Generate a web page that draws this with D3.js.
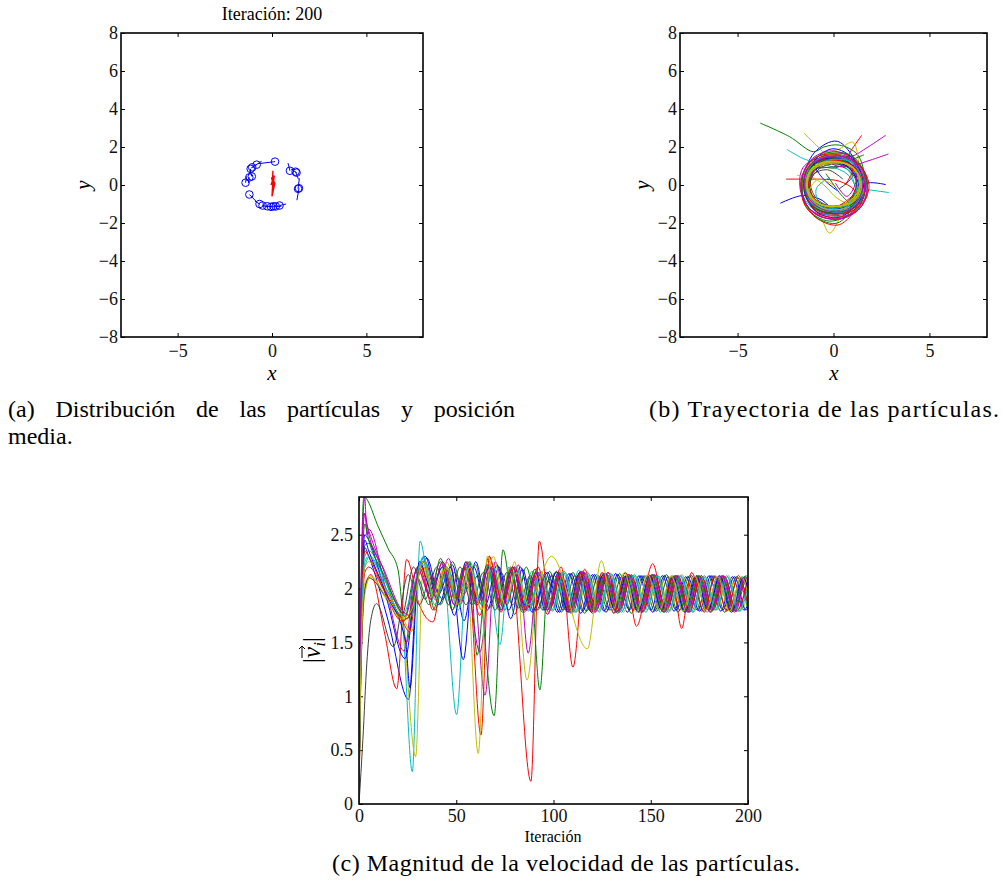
<!DOCTYPE html>
<html>
<head>
<meta charset="utf-8">
<script src="https://cdn.jsdelivr.net/npm/d3@7"></script>
<style>
body { margin: 0; background: #fff; }
svg  { display: block; font-family: "Liberation Serif", "Times New Roman", serif; }
</style>
</head>
<body>
<script>
/* global d3 */

// ---- data ----
var posTicksX = [-5, 0, 5];
var posTicksY = [-8, -6, -4, -2, 0, 2, 4, 6, 8];
var iterTicks = [0, 50, 100, 150, 200];
var speedTicks = [0, 0.5, 1, 1.5, 2, 2.5];

// MATLAB line colour order b g r c m y k
var lineColors = ["#0000ff", "#008000", "#ff0000", "#00bfbf", "#bf00bf", "#bfbf00", "#404040"];

// (a) particle positions at iteration 200 and the end of their short tails
var particlePos = [
    [0.16, 1.23], [-0.81, 1.07], [-1.05, 0.93], [-1.13, 0.85], [-1.07, 0.45],
    [-1.4, 0.12], [-1.2, -0.5], [-0.66, -1.0], [-0.5, -1.08], [-0.25, -1.12],
    [-0.05, -1.15], [0.07, -1.12], [0.4, -1.08], [0.95, 0.75], [1.3, 0.65],
    [1.43, -0.17], [1.38, -0.2], [-1.2, 0.4], [0.2, -1.13], [1.25, 0.7]
];
var particleTail = [
    [-0.75, 1.12], [-1.1, 0.9], [-0.55, 1.25], [-1.2, 0.55], [-1.15, 0.75],
    [-1.35, 0.45], [-0.85, -0.85], [-0.9, -0.85], [-0.2, -1.15], [0.1, -1.15],
    [-0.4, -1.1], [0.35, -1.1], [0.75, -1.0], [0.85, 1.15], [1.0, 0.85],
    [1.32, -0.8], [1.45, 0.35], [-1.25, 0.1], [0.5, -1.12], [1.4, 0.3]
];
// (a) mean position of the swarm
var meanPath = [
    [0.05, 0.75], [0.02, 0.2], [0.1, -0.1], [-0.03, 0.4], [0.15, 0.1], [0.0, -0.6],
    [0.05, 0.3], [-0.05, 0.0], [0.12, 0.5], [0.02, -0.35], [0.08, 0.2], [0.04, 0.6]
];

// (b) trajectories, one per particle
var trajectories = [
    [[-2.77,-0.96],[-1.6,-0.55],[-0.7,-0.75],[0.4,-1.5],[1.45,-0.7],[1.4,0.7],[0.2,2.3],[-1.0,1.7],[-1.5,0.3],[-0.9,-1.0],[0.5,-1.3],[1.35,-0.1],[0.8,1.05],[-0.5,1.15],[-1.3,0.2],[-0.8,-0.95],[0.45,-1.1],[1.3,0.0],[0.8,1.0],[0.16,1.23]],
    [[-3.82,3.26],[-2.3,2.55],[-1.05,1.75],[-0.5,2.0],[0.3,2.1],[1.25,1.6],[1.6,0.3],[1.1,-1.3],[-0.2,-1.9],[-1.4,-1.2],[-1.6,0.3],[-0.9,1.3],[0.4,1.3],[1.4,0.3],[1.0,-0.9],[-0.3,-1.2],[-1.3,-0.5],[-1.2,0.7],[-0.1,1.2],[1.1,0.8],[1.3,-0.4],[0.4,-1.1],[-0.5,-1.08]],
    [[1.47,2.62],[0.9,1.8],[0.5,1.2],[-0.4,1.5],[-1.3,0.9],[-1.6,-0.6],[-0.8,-1.6],[0.6,-1.7],[1.6,-0.8],[1.7,0.5],[0.9,1.4],[-0.4,1.3],[-1.4,0.3],[-1.1,-0.9],[0.2,-1.25],[1.3,-0.6],[1.3,0.6],[0.4,1.15],[-0.7,1.0],[-1.4,0.12]],
    [[-2.42,1.87],[-1.6,1.4],[-1.0,1.2],[-0.2,1.0],[0.8,0.5],[1.2,-0.5],[0.6,-1.4],[-0.7,-1.5],[-1.6,-0.5],[-1.4,0.9],[-0.3,1.5],[0.9,1.3],[1.5,0.2],[1.0,-1.0],[-0.2,-1.3],[-1.2,-0.7],[-1.3,0.5],[-0.5,1.1],[0.7,1.0],[1.3,0.65]],
    [[2.72,2.62],[1.8,2.0],[0.9,1.5],[-0.1,1.6],[-1.2,1.1],[-1.5,-0.2],[-1.0,-1.3],[0.3,-1.6],[1.4,-1.0],[1.6,0.4],[0.8,1.4],[-0.5,1.4],[-1.4,0.5],[-1.3,-0.8],[-0.2,-1.4],[1.1,-1.0],[1.45,0.2],[0.9,1.05],[-0.3,1.2],[-1.05,0.93]],
    [[-1.55,2.74],[-0.9,2.1],[-0.45,1.7],[0.3,1.9],[1.0,2.25],[1.3,1.2],[1.1,-0.3],[0.4,-1.6],[-0.2,-2.53],[-0.7,-1.6],[-1.4,-0.6],[-1.3,0.8],[-0.3,1.3],[0.9,1.1],[1.4,0.0],[0.8,-1.0],[-0.5,-1.15],[-1.35,-0.3],[-1.1,0.8],[0.0,1.25],[1.0,1.0],[1.4,-0.2],[0.95,-0.9],[0.07,-1.12]],
    [[0.3,-0.2],[1.0,0.5],[0.5,1.3],[-0.7,1.2],[-1.3,0.0],[-0.7,-1.1],[0.6,-1.0],[1.2,0.1],[0.6,0.9],[-0.6,0.9],[-1.13,0.85]],
    [[2.72,0.02],[1.66,0.06],[1.3,-0.9],[0.3,-1.7],[-0.9,-1.4],[-1.5,-0.2],[-1.1,1.1],[0.1,1.5],[1.2,1.0],[1.5,-0.3],[0.7,-1.3],[-0.6,-1.3],[-1.4,-0.3],[-1.0,0.9],[0.2,1.2],[1.25,0.6],[1.3,-0.6],[0.4,-1.15],[-0.66,-1.0]],
    [[1.59,1.59],[0.9,1.3],[0.1,0.9],[-0.8,0.9],[-1.3,0.0],[-0.9,-1.2],[0.4,-1.5],[1.5,-0.8],[1.6,0.6],[0.7,1.5],[-0.6,1.5],[-1.5,0.6],[-1.4,-0.7],[-0.4,-1.4],[0.9,-1.2],[1.45,0.0],[0.9,1.1],[-0.2,1.25],[-1.2,0.6],[-1.2,-0.5]],
    [[-2.48,0.31],[-1.38,0.31],[-0.6,0.3],[0.3,0.2],[1.1,-0.3],[1.2,-1.1],[0.3,-2.09],[-0.8,-1.8],[-1.6,-0.8],[-1.5,0.6],[-0.6,1.5],[0.7,1.6],[1.6,0.7],[1.7,-0.6],[0.9,-1.4],[-0.4,-1.4],[-1.3,-0.6],[-1.3,0.6],[-0.4,1.2],[0.8,1.15],[1.4,0.3],[1.2,-0.7],[0.4,-1.08]],
    [[2.9,-0.4],[1.8,-0.25],[1.22,-0.2],[0.9,0.6],[0.1,1.3],[-0.9,1.3],[-1.5,0.4],[-1.3,-0.9],[-0.2,-1.6],[1.0,-1.5],[1.7,-0.5],[1.5,0.8],[0.4,1.4],[-0.8,1.3],[-1.4,0.2],[-1.0,-1.0],[0.2,-1.3],[1.2,-0.8],[1.4,0.4],[0.95,0.75]],
    [[2.86,1.63],[1.9,1.3],[1.03,1.04],[0.2,1.0],[-0.7,1.4],[-1.6,0.9],[-1.7,-0.4],[-1.0,-1.5],[0.3,-1.8],[1.4,-1.2],[1.75,0.1],[1.1,1.2],[-0.2,1.4],[-1.3,0.8],[-1.4,-0.5],[-0.6,-1.3],[0.7,-1.3],[1.4,-0.4],[1.2,0.7],[0.3,1.2],[-0.81,1.07]],
    [[-1.9,0.5],[-1.2,0.45],[-0.5,0.0],[0.2,-0.7],[1.0,-1.0],[1.6,-0.2],[1.3,1.0],[0.2,1.6],[-1.0,1.4],[-1.6,0.3],[-1.2,-1.0],[0.0,-1.4],[1.1,-1.0],[1.4,0.2],[0.8,1.1],[-0.4,1.2],[-1.3,0.5],[-1.2,-0.6],[-0.3,-1.15],[0.7,-1.0],[1.35,-0.1],[1.0,0.9],[-0.1,1.25],[-1.2,0.75],[-1.42,-0.2],[-0.8,-1.0],[0.4,-1.12],[1.3,-0.5],[1.3,0.55],[0.3,1.2],[-0.8,1.05],[-1.07,0.45]],
    [[0.5,0.3],[-0.3,0.8],[-1.1,0.5],[-1.1,-0.6],[-0.2,-1.1],[0.9,-0.8],[1.2,0.3],[0.6,1.0],[-0.5,1.0],[-1.2,0.2],[-0.9,-0.7],[-0.25,-1.12]],
    [[0.2,-0.3],[-0.6,0.4],[-1.0,1.2],[-0.1,1.9],[0.9,1.5],[1.5,0.3],[1.1,-1.0],[-0.1,-1.5],[-1.3,-0.9],[-1.5,0.4],[-0.7,1.3],[0.6,1.3],[1.4,0.5],[1.2,-0.8],[0.1,-1.25],[-1.1,-0.8],[-1.3,0.4],[-0.5,1.1],[0.7,1.0],[1.43,-0.17]],
    [[-0.4,0.6],[0.3,-0.4],[0.9,-1.2],[0.2,-2.0],[-0.9,-1.7],[-1.6,-0.5],[-1.4,1.0],[-0.3,1.7],[1.0,1.5],[1.7,0.3],[1.3,-1.0],[0.1,-1.5],[-1.2,-1.0],[-1.5,0.3],[-0.8,1.2],[0.5,1.3],[1.4,0.4],[1.2,-0.8],[0.2,-1.2],[-0.05,-1.15]],
    [[0.6,0.0],[1.0,0.9],[0.2,1.6],[-1.0,1.4],[-1.7,0.2],[-1.3,-1.2],[0.0,-1.7],[1.3,-1.3],[1.85,0.0],[1.2,1.2],[0.0,1.5],[-1.2,1.0],[-1.5,-0.2],[-0.9,-1.3],[0.4,-1.5],[1.5,-0.8],[1.5,0.5],[0.6,1.2],[-0.5,1.25],[-1.3,0.5],[-1.0,-0.7],[0.0,-1.2],[1.38,-0.2]],
    [[-0.2,0.4],[-0.9,-0.2],[-0.6,-1.2],[0.6,-1.4],[1.4,-0.5],[1.3,0.8],[0.3,1.5],[-0.9,1.3],[-1.5,0.2],[-1.1,-1.0],[0.1,-1.4],[1.2,-1.0],[1.5,0.2],[0.9,1.2],[-0.3,1.3],[-1.3,0.6],[-1.3,-0.6],[-0.4,-1.2],[0.8,-1.0],[1.3,0.2],[1.25,0.7]],
    [[0.1,0.1],[0.7,-0.6],[1.2,0.3],[1.0,1.3],[-0.1,1.8],[-1.2,1.3],[-1.7,0.0],[-1.2,-1.3],[0.1,-1.8],[1.3,-1.2],[1.6,0.2],[1.0,1.3],[-0.3,1.5],[-1.4,0.8],[-1.4,-0.5],[-0.5,-1.3],[0.8,-1.3],[1.5,-0.3],[1.2,0.8],[0.2,1.2],[-0.8,1.0],[-1.2,0.4]],
    [[0.0,0.0],[-0.8,0.3],[-1.3,-0.5],[-0.6,-1.2],[0.6,-1.2],[1.35,-0.3],[1.2,0.7],[0.3,1.2],[-0.8,1.1],[-1.38,0.2],[-1.0,-0.85],[0.0,-1.1],[1.0,-0.9],[1.4,0.1],[0.9,1.0],[-0.2,1.2],[-1.2,0.8],[-1.35,-0.3],[-0.6,-1.05],[0.5,-1.05],[1.35,-0.2],[1.1,0.85],[0.0,1.22],[-1.1,0.9],[-1.4,0.0],[-0.9,-0.9],[0.2,-1.13],[1.2,-0.75],[1.45,0.2],[0.85,1.05],[-0.3,1.18],[-1.25,0.6],[-1.3,-0.5],[-0.5,-1.1],[0.6,-1.0],[1.38,-0.1],[1.0,0.95],[0.1,1.15],[-1.0,0.85],[-1.35,-0.1],[-0.7,-1.0],[0.2,-1.13]]
];

// (c) speed |v_i| per particle: [iteration, value] at start, peaks and troughs
var speedCurves = [
    [[0,0],[1,1.5],[3,2.38],[5,2.3],[15,1.7],[25.5,0.97],[30,2.1],[34,2.3],[41,1.85],[48,2.22],[54,1.7],[60,2.25],[66,1.8],[72,2.2],[78,1.72],[84,2.18],[90,1.78],[96,2.15],[102,1.78],[108,2.14],[114,1.77],[120,2.13],[126,1.79],[132,2.14],[138,1.78],[144,2.12],[150,1.8],[156,2.12],[162,1.79],[168,2.11],[174,1.8],[180,2.12],[186,1.79],[192,2.11],[198,1.8],[200,1.85]],
    [[0,0],[1,1.9],[2.5,2.85],[10,2.57],[15,2.37],[20,2.18],[24.5,1.5],[29,2.05],[35,2.2],[42,1.85],[48,2.25],[54,1.95],[60,2.22],[69.5,0.82],[74,2.36],[80,1.76],[86,2.2],[92,1.8],[98,2.16],[104,1.78],[110,2.15],[116,1.77],[122,2.13],[128,1.8],[134,2.14],[140,1.77],[146,2.12],[152,1.79],[158,2.13],[164,1.78],[170,2.12],[176,1.79],[182,2.12],[188,1.78],[194,2.11],[200,1.8]],
    [[0,0],[1,1.3],[3,2.0],[6,2.13],[13,1.6],[19.4,1.07],[24.5,2.27],[31,1.85],[38,1.69],[44,2.2],[50,1.9],[56,2.15],[62.7,0.64],[67,2.3],[73,1.78],[79,2.2],[85,1.8],[91,2.12],[97,1.76],[103,2.15],[109,1.79],[115,2.16],[121,1.78],[127,2.13],[133,1.79],[139,2.13],[145,1.78],[151,2.12],[157,1.8],[163,2.12],[169,1.78],[175,2.11],[181,1.8],[187,2.12],[193,1.78],[199,2.1],[200,2.08]],
    [[0,0],[1,1.4],[3,2.2],[5.7,2.3],[14,2.0],[22,1.72],[27.4,0.3],[31.4,2.44],[37,1.95],[43,2.2],[50.2,0.83],[55,2.05],[61,1.85],[66,2.22],[72.5,1.48],[77,2.2],[83,1.82],[89,2.16],[95,1.8],[101,2.14],[107,1.78],[113,2.17],[119,1.8],[125,2.14],[131,1.77],[137,2.12],[143,1.8],[149,2.13],[155,1.78],[161,2.12],[167,1.8],[173,2.11],[179,1.78],[185,2.12],[191,1.8],[197,2.11],[200,2.0]],
    [[0,0],[1,2.0],[3,2.84],[4,2.5],[5,2.55],[14,1.98],[23.2,1.42],[29,2.15],[34,2.25],[40,1.9],[46,2.28],[52,1.85],[58,2.2],[64.8,1.01],[70,2.25],[76,1.85],[82,2.22],[87,1.4],[92,2.15],[98,1.82],[104,2.13],[110,1.78],[116,2.15],[122,1.8],[128,2.15],[134,1.78],[140,2.12],[146,1.79],[152,2.13],[158,1.78],[164,2.12],[170,1.79],[176,2.12],[182,1.8],[188,2.11],[194,1.79],[200,2.1]],
    [[0,0],[1,1.2],[3,1.95],[6,2.11],[14,1.9],[22,1.7],[29.1,0.44],[33,2.2],[39,1.95],[45,2.25],[51,1.9],[57,2.15],[63,1.8],[69,2.2],[75,1.8],[80,2.25],[86.4,1.15],[93,2.15],[100,1.8],[106,2.15],[112,1.78],[118,2.14],[124,1.8],[130,2.13],[136,1.78],[142,2.12],[148,1.8],[154,2.12],[160,1.79],[166,2.13],[172,1.78],[178,2.11],[184,1.8],[190,2.12],[196,1.79],[200,1.95]],
    [[0,0],[2,0.6],[4,1.3],[6,1.7],[9,1.86],[17.6,1.46],[25.3,2.13],[31,1.85],[37,2.1],[43,1.9],[49,2.15],[55,1.85],[61,2.12],[67,1.82],[73,2.15],[79,1.85],[85,2.1],[91,1.8],[99,2.12],[105,1.8],[111,2.12],[117,1.79],[123,2.12],[129,1.8],[135,2.11],[141,1.8],[147,2.12],[153,1.79],[159,2.11],[165,1.8],[171,2.12],[177,1.79],[183,2.11],[189,1.8],[195,2.1],[200,1.85]],
    [[0,0],[1,1.7],[3,2.5],[5,2.45],[14,1.92],[23.7,1.35],[29,2.0],[35,2.28],[41,1.95],[47,2.2],[53.6,1.34],[59,2.2],[65,1.85],[71,2.22],[77,1.8],[83,2.2],[89,1.78],[97,2.15],[103,1.78],[109,2.14],[115,1.79],[121,2.13],[127,1.78],[133,2.13],[139,1.8],[145,2.12],[151,1.78],[157,2.12],[163,1.8],[169,2.11],[175,1.79],[181,2.12],[187,1.8],[193,2.11],[199,1.8],[200,1.82]],
    [[0,0],[1,1.6],[3,2.4],[5,2.42],[14,2.05],[23,1.7],[28,2.1],[33,2.25],[39,1.8],[45,2.2],[51,1.85],[57,2.25],[60.7,1.38],[66,2.2],[72,1.85],[78,2.15],[84,1.8],[88,2.1],[93,1.06],[97,2.05],[102,2.15],[108,1.78],[114,2.16],[120,1.77],[126,2.14],[132,1.78],[138,2.13],[144,1.78],[150,2.12],[156,1.79],[162,2.12],[168,1.78],[174,2.12],[180,1.8],[186,2.11],[192,1.79],[198,2.11],[200,2.05]],
    [[0,0],[1,1.3],[3,2.15],[5,2.2],[13,1.98],[21,1.75],[26,1.6],[31,2.2],[37,1.9],[43,2.25],[49,1.85],[55,2.2],[61,1.85],[67,2.3],[73,1.85],[78,2.2],[88.4,0.21],[92.7,2.44],[98,1.9],[104,2.2],[110,1.27],[116,2.18],[122,1.8],[128,2.15],[134,1.8],[140,2.13],[146,1.78],[152,2.12],[158,1.8],[164,2.12],[170,1.78],[176,2.12],[182,1.8],[188,2.11],[194,1.79],[200,2.08]],
    [[0,0],[1,1.5],[3,2.3],[5,2.35],[14,2.05],[22,1.8],[27,1.75],[33,2.3],[39,1.9],[45,2.2],[51,1.95],[57,2.2],[63,1.85],[69,2.15],[75,1.8],[81,2.18],[87,1.79],[93,2.13],[99,1.8],[105,2.15],[111,1.78],[117,2.14],[123,1.79],[129,2.13],[135,1.78],[141,2.12],[147,1.8],[153,2.12],[159,1.78],[165,2.12],[171,1.79],[177,2.11],[183,1.8],[189,2.12],[195,1.79],[200,2.05]],
    [[0,0],[1,1.8],[2.5,2.7],[4,2.6],[12,2.2],[21,1.8],[24,1.75],[30,2.2],[36,1.95],[42,2.25],[48,1.8],[54,2.2],[62.2,1.41],[68,2.2],[74,1.85],[80,2.2],[86,1.8],[92,2.15],[97.5,1.78],[103.5,2.14],[109.5,1.8],[115.5,2.15],[121.5,1.78],[127.5,2.13],[133.5,1.8],[139.5,2.12],[145.5,1.78],[151.5,2.13],[157.5,1.8],[163.5,2.12],[169.5,1.78],[175.5,2.11],[181.5,1.8],[187.5,2.12],[193.5,1.79],[199.5,2.1],[200,2.08]],
    [[0,0],[1,1.4],[3,2.2],[5,2.25],[14,1.98],[22,1.75],[27,1.6],[32,2.25],[38,1.95],[44,2.2],[50,1.85],[55,2.25],[61.3,0.47],[66,2.3],[72,1.85],[78,2.2],[84,1.8],[90,2.15],[96.5,1.8],[102.5,2.13],[108.5,1.79],[114.5,2.14],[120.5,1.78],[126.5,2.12],[132.5,1.8],[138.5,2.12],[144.5,1.78],[150.5,2.12],[156.5,1.79],[162.5,2.12],[168.5,1.8],[174.5,2.11],[180.5,1.79],[186.5,2.11],[192.5,1.8],[198.5,2.1],[200,2.05]],
    [[0,0],[1,1.2],[3,2.0],[5,2.1],[14,1.92],[22,1.75],[28,2.2],[34,1.9],[40,2.2],[46,1.85],[52,2.2],[58,1.85],[64,2.15],[70,1.8],[76,2.15],[82,1.82],[88,2.12],[94.5,1.8],[100.5,2.12],[106.5,1.8],[112.5,2.12],[118.5,1.8],[124.5,2.11],[130.5,1.8],[136.5,2.11],[142.5,1.8],[148.5,2.11],[154.5,1.8],[160.5,2.1],[166.5,1.8],[172.5,2.1],[178.5,1.81],[184.5,2.1],[190.5,1.8],[196.5,2.1],[200,1.95]],
    [[0,0],[1,1.6],[3,2.45],[5,2.35],[14,1.95],[24,1.5],[26.2,1.08],[31,2.25],[37,2.0],[43,2.2],[49,1.75],[55,2.25],[61,1.9],[67,2.2],[73,1.8],[79,2.2],[85,1.85],[91,2.15],[95.5,1.8],[101.5,2.16],[107.5,1.78],[113.5,2.15],[119.5,1.78],[125.5,2.13],[131.5,1.8],[137.5,2.12],[143.5,1.78],[149.5,2.12],[155.5,1.8],[161.5,2.11],[167.5,1.78],[173.5,2.12],[179.5,1.8],[185.5,2.12],[191.5,1.78],[197.5,2.1],[200,2.0]],
    [[0,0],[1,1.8],[3,2.6],[5,2.45],[13,2.12],[21,1.8],[25,1.72],[30,2.1],[36,1.85],[42,2.28],[48,1.8],[54,2.2],[60,1.85],[66,2.22],[72,1.8],[78,2.18],[84,1.78],[90.5,2.18],[97,1.8],[103,2.14],[109,1.77],[115,2.13],[121,1.8],[127,2.14],[133,1.77],[139,2.12],[145,1.8],[151,2.13],[157,1.78],[163,2.12],[169,1.8],[175,2.12],[181,1.78],[187,2.11],[193,1.8],[199,2.12],[200,2.1]],
    [[0,0],[1,1.6],[3,2.35],[5,2.3],[13,1.98],[22,1.7],[26,1.75],[32,2.2],[38,1.8],[44,2.15],[50,1.9],[56,2.25],[62,1.75],[68,2.2],[74,1.85],[80,2.2],[86,1.8],[92,2.2],[98,1.8],[104,2.15],[108,1.8],[114,2.15],[119.6,1.78],[125,2.15],[131.1,1.77],[137,2.15],[142.7,1.65],[151,2.23],[157,1.85],[161,2.1],[165.9,1.63],[171,2.15],[177.5,1.78],[183,2.12],[189.1,1.79],[195,2.12],[200,1.85]],
    [[0,0],[1,1.5],[3,2.25],[5,2.3],[14,2.0],[22,1.75],[27,1.95],[33,2.28],[39,1.85],[45,2.15],[51,1.8],[57,2.25],[63,1.85],[69,2.2],[75,1.8],[81,2.2],[87.5,1.8],[93.5,2.16],[99.5,1.79],[105.5,2.16],[111.5,1.78],[117.5,2.15],[123.5,1.78],[129.5,2.14],[135.5,1.8],[141.5,2.13],[147.5,1.78],[153.5,2.12],[159.5,1.8],[165.5,2.12],[171.5,1.78],[177.5,2.12],[183.5,1.8],[189.5,2.11],[195.5,1.79],[200,2.02]],
    [[0,0],[1,1.9],[3,2.7],[4.5,2.55],[13,2.17],[22,1.8],[26,1.75],[31,2.15],[37,1.9],[43,2.25],[49,1.85],[55,2.22],[61,1.85],[67,2.22],[73,1.8],[79,2.2],[85,1.78],[91,2.15],[97,1.8],[102.5,2.15],[108.5,1.78],[114.5,2.16],[120.5,1.78],[126.5,2.14],[132.5,1.78],[138.5,2.13],[144.5,1.8],[150.5,2.13],[156.5,1.78],[162.5,2.12],[168.5,1.8],[174.5,2.12],[180.5,1.78],[186.5,2.12],[192.5,1.8],[198.5,2.11],[200,2.08]],
    [[0,0],[1,1.3],[3,2.05],[6,2.12],[14,1.92],[22,1.72],[27,1.8],[33,2.25],[39,1.9],[45,2.2],[51,1.85],[57,2.2],[63,1.8],[69,2.3],[75,1.85],[81,2.15],[87,1.85],[99,2.3],[117.4,1.44],[124.6,2.26],[130.5,1.8],[136.5,2.15],[142.5,1.78],[148.5,2.13],[154.5,1.8],[160.5,2.12],[166.5,1.79],[172.5,2.12],[178.5,1.8],[184.5,2.11],[190.5,1.79],[196.5,2.11],[200,1.95]]
];

var captionA1 = "(a) Distribución de las partículas y posición";
var captionA2 = "media.";
var captionB  = "(b) Trayectoria de las partículas.";
var captionC  = "(c) Magnitud de la velocidad de las partículas.";

// ---- drawing ----
var serif = "'Liberation Serif', 'Times New Roman', Times, serif";

var svg = d3.select("body").append("svg")
            .attr("width", 1002)
            .attr("height", 896)
            .attr("font-family", serif);

var colorOf = (i) => lineColors[i % lineColors.length];
var numFmt  = d3.format("~g");

var makeAxes = (box, xDom, yDom, xTicks, yTicks, id) => {
    var x = d3.scaleLinear().domain(xDom).range([box.left, box.right]);
    var y = d3.scaleLinear().domain(yDom).range([box.bottom, box.top]);
    var g = svg.append("g");

    var styleAxis = (sel) => {
        sel.select(".domain").remove();
        sel.attr("font-family", serif).attr("font-size", null);
        sel.selectAll("line").attr("stroke", "#000");
        sel.selectAll("text").style("font-size", "18px").attr("fill", "#111");
    };

    g.append("g").attr("transform", `translate(0,${box.bottom})`)
     .call(d3.axisBottom(x).tickValues(xTicks).tickSize(-4).tickPadding(box.xpad).tickFormat(numFmt))
     .call(styleAxis);
    g.append("g").attr("transform", `translate(0,${box.top})`)
     .call(d3.axisTop(x).tickValues(xTicks).tickSize(-4).tickFormat(() => ""))
     .call(styleAxis);
    g.append("g").attr("transform", `translate(${box.left},0)`)
     .call(d3.axisLeft(y).tickValues(yTicks).tickSize(-4).tickPadding(box.ypad).tickFormat(numFmt))
     .call(styleAxis);
    g.append("g").attr("transform", `translate(${box.right},0)`)
     .call(d3.axisRight(y).tickValues(yTicks).tickSize(-4).tickFormat(() => ""))
     .call(styleAxis);

    svg.append("clipPath").attr("id", id)
       .append("rect")
       .attr("x", box.left).attr("y", box.top)
       .attr("width", box.right - box.left).attr("height", box.bottom - box.top);

    var plot = svg.append("g").attr("clip-path", `url(#${id})`);

    // box drawn after the data so it sits on top
    var frame = () => svg.append("rect")
        .attr("x", box.left).attr("y", box.top)
        .attr("width", box.right - box.left).attr("height", box.bottom - box.top)
        .attr("fill", "none").attr("stroke", "#000").attr("stroke-width", 1.6);

    return { x: x, y: y, plot: plot, frame: frame };
};

var italicLabel = (txt, x, y, rotate) => svg.append("text")
    .attr("transform", `translate(${x},${y})` + (rotate ? " rotate(-90)" : ""))
    .attr("text-anchor", "middle")
    .style("font-size", "21px").style("font-style", "italic")
    .text(txt);

// (a) particles at the last iteration
var axA = makeAxes({ left: 121, right: 423, top: 33, bottom: 337, xpad: 7, ypad: 3 },
                   [-8, 8], [-8, 8], posTicksX, posTicksY, "clipA");

axA.plot.selectAll("line.tail")
   .data(particlePos)
   .enter().append("line")
   .attr("x1", (d) => axA.x(d[0]))
   .attr("y1", (d) => axA.y(d[1]))
   .attr("x2", (d, i) => axA.x(particleTail[i][0]))
   .attr("y2", (d, i) => axA.y(particleTail[i][1]))
   .attr("stroke", "#0000ff").attr("stroke-width", 1);

axA.plot.selectAll("circle")
   .data(particlePos)
   .enter().append("circle")
   .attr("cx", (d) => axA.x(d[0]))
   .attr("cy", (d) => axA.y(d[1]))
   .attr("r", 3.8)
   .attr("fill", "none").attr("stroke", "#0000ff").attr("stroke-width", 1);

axA.plot.append("path")
   .datum(meanPath)
   .attr("d", d3.line().x((d) => axA.x(d[0])).y((d) => axA.y(d[1])))
   .attr("fill", "none").attr("stroke", "#ff0000").attr("stroke-width", 1.4);
axA.frame();

svg.append("text").attr("x", 272).attr("y", 20)
   .attr("text-anchor", "middle").style("font-size", "18px")
   .text("Iteración: 200");
italicLabel("x", 272, 380, false);
italicLabel("y", 90, 185, true);

// (b) trajectories
var axB = makeAxes({ left: 680, right: 987, top: 33, bottom: 337, xpad: 7, ypad: 3 },
                   [-8, 8], [-8, 8], posTicksX, posTicksY, "clipB");

axB.plot.selectAll("path")
   .data(trajectories)
   .enter().append("path")
   .attr("d", d3.line().curve(d3.curveCatmullRom.alpha(0.5))
                .x((d) => axB.x(d[0])).y((d) => axB.y(d[1])))
   .attr("fill", "none")
   .attr("stroke", (d, i) => colorOf(i))
   .attr("stroke-width", 1);
axB.frame();

italicLabel("x", 834, 380, false);
italicLabel("y", 649, 185, true);

// (c) speed of each particle
var axC = makeAxes({ left: 359, right: 748, top: 497, bottom: 804, xpad: 5, ypad: 6 },
                   [0, 200], [0, 2.85], iterTicks, speedTicks, "clipC");

axC.plot.selectAll("path")
   .data(speedCurves)
   .enter().append("path")
   .attr("d", d3.line().curve(d3.curveMonotoneX)
                .x((d) => axC.x(d[0])).y((d) => axC.y(d[1])))
   .attr("fill", "none")
   .attr("stroke", (d, i) => colorOf(i))
   .attr("stroke-width", 1);
axC.frame();

svg.append("text").attr("x", 553).attr("y", 842)
   .attr("text-anchor", "middle").style("font-size", "16px")
   .text("Iteración");

// |v_i| label, rotated
var vl = svg.append("g").attr("transform", "translate(320,650) rotate(-90)");
var vt = vl.append("text").attr("text-anchor", "middle").style("font-size", "25px");
vt.append("tspan").text("|");
vt.append("tspan").style("font-style", "italic").text("v");
vt.append("tspan").style("font-style", "italic").style("font-size", "17px")
  .attr("dy", 5).text("i");
vt.append("tspan").attr("dy", -5).text("|");
vl.append("path").attr("d", "M-8,-18 L4,-18 M1,-21 L4,-18 L1,-15")
  .attr("fill", "none").attr("stroke", "#000").attr("stroke-width", 1);

// captions
var capSize = "24px";
var caption = (txt, x, y, width) => {
    var t = svg.append("text").attr("x", x).attr("y", y)
               .style("font-size", capSize).text(txt);
    if (width) t.attr("textLength", width).attr("lengthAdjust", "spacing");
    return t;
};

var justify = (txt, x0, x1, y) => {
    var words = txt.split(" ");
    var nodes = words.map((w) => svg.append("text").attr("y", y)
                                    .style("font-size", capSize).text(w));
    var widths = nodes.map((n) => n.node().getComputedTextLength());
    var gap = (x1 - x0 - d3.sum(widths)) / (words.length - 1);
    var cx = x0;
    nodes.forEach((n, i) => { n.attr("x", cx); cx += widths[i] + gap; });
};

justify(captionA1, 8, 515, 417);
caption(captionA2, 8, 444);
caption(captionB, 649, 417, 350);
caption(captionC, 332, 871, 468);
</script>
</body>
</html>
